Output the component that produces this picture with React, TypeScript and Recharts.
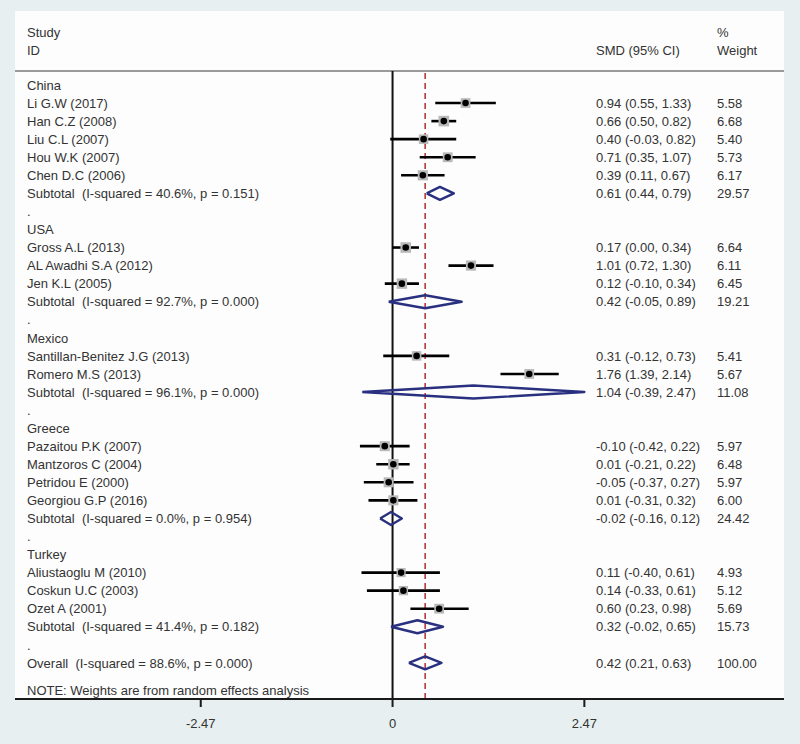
import React from "react";
import { ScatterChart, Scatter, XAxis, YAxis, ReferenceLine } from "recharts";

const groupNames = ["China", "USA", "Mexico", "Greece", "Turkey"];

const studyNames = [
  "Li G.W (2017)", "Han C.Z (2008)", "Liu C.L (2007)", "Hou W.K (2007)", "Chen D.C (2006)",
  "Gross A.L (2013)", "AL Awadhi S.A (2012)", "Jen K.L (2005)",
  "Santillan-Benitez J.G (2013)", "Romero M.S (2013)",
  "Pazaitou P.K (2007)", "Mantzoros C (2004)", "Petridou E (2000)", "Georgiou G.P (2016)",
  "Aliustaoglu M (2010)", "Coskun U.C (2003)", "Ozet A (2001)",
];
const studyGroup = [0, 0, 0, 0, 0, 1, 1, 1, 2, 2, 3, 3, 3, 3, 4, 4, 4];
const studySmd = [0.94, 0.66, 0.4, 0.71, 0.39, 0.17, 1.01, 0.12, 0.31, 1.76, -0.1, 0.01, -0.05, 0.01, 0.11, 0.14, 0.6];
const studyLow = [0.55, 0.5, -0.03, 0.35, 0.11, 0.0, 0.72, -0.1, -0.12, 1.39, -0.42, -0.21, -0.37, -0.31, -0.4, -0.33, 0.23];
const studyHigh = [1.33, 0.82, 0.82, 1.07, 0.67, 0.34, 1.3, 0.34, 0.73, 2.14, 0.22, 0.22, 0.27, 0.32, 0.61, 0.61, 0.98];
const studyWeight = [5.58, 6.68, 5.4, 5.73, 6.17, 6.64, 6.11, 6.45, 5.41, 5.67, 5.97, 6.48, 5.97, 6.0, 4.93, 5.12, 5.69];

const subtotalLabels = [
  "Subtotal  (I-squared = 40.6%, p = 0.151)",
  "Subtotal  (I-squared = 92.7%, p = 0.000)",
  "Subtotal  (I-squared = 96.1%, p = 0.000)",
  "Subtotal  (I-squared = 0.0%, p = 0.954)",
  "Subtotal  (I-squared = 41.4%, p = 0.182)",
];
const subtotalSmd = [0.61, 0.42, 1.04, -0.02, 0.32];
const subtotalLow = [0.44, -0.05, -0.39, -0.16, -0.02];
const subtotalHigh = [0.79, 0.89, 2.47, 0.12, 0.65];
const subtotalWeight = [29.57, 19.21, 11.08, 24.42, 15.73];

const overallLabel = "Overall  (I-squared = 88.6%, p = 0.000)";
const overallSmd = 0.42;
const overallLow = 0.21;
const overallHigh = 0.63;
const overallWeight = 100.0;

const noteText = "NOTE: Weights are from random effects analysis";
const xTicks = [-2.47, 0, 2.47];

const FONT = "'Liberation Sans', Arial, sans-serif";
const TEXT = "#333";
const NAVY = "#28307f";
const X_DOMAIN: [number, number] = [-4.862, 5.041];
const Y_DOMAIN: [number, number] = [-0.775, 34.0];
const DIAMOND_HALF = 0.36;

const f2 = (v: number) => v.toFixed(2);
const ciText = (s: number, l: number, h: number) => `${f2(s)} (${f2(l)}, ${f2(h)})`;

type Row = { y: number; label: string; smdText?: string; wText?: string };

const rows: Row[] = [];
const studyPoints: { x: number; y: number; w: number; lo: number; hi: number }[] = [];
const diamonds: { y: number; smd: number; lo: number; hi: number }[] = [];
let r = 0;
groupNames.forEach((g, gi) => {
  rows.push({ y: r, label: g });
  r++;
  studyNames.forEach((n, si) => {
    if (studyGroup[si] !== gi) return;
    rows.push({ y: r, label: n, smdText: ciText(studySmd[si], studyLow[si], studyHigh[si]), wText: f2(studyWeight[si]) });
    studyPoints.push({ x: studySmd[si], y: r, w: studyWeight[si], lo: studyLow[si], hi: studyHigh[si] });
    r++;
  });
  rows.push({ y: r, label: subtotalLabels[gi], smdText: ciText(subtotalSmd[gi], subtotalLow[gi], subtotalHigh[gi]), wText: f2(subtotalWeight[gi]) });
  diamonds.push({ y: r, smd: subtotalSmd[gi], lo: subtotalLow[gi], hi: subtotalHigh[gi] });
  r++;
  rows.push({ y: r, label: "." });
  r++;
});
rows.push({ y: r, label: overallLabel, smdText: ciText(overallSmd, overallLow, overallHigh), wText: f2(overallWeight) });
diamonds.push({ y: r, smd: overallSmd, lo: overallLow, hi: overallHigh });
r++;
rows.push({ y: r + 0.5, label: noteText });

const labelData = rows.map((row) => ({ x: 0, y: row.y, row }));

const LabelShape = (props: any) => {
  const { cy, payload } = props;
  const row: Row = payload.row;
  const common = { fontFamily: FONT, fontSize: 13, fill: TEXT, dy: "0.36em", style: { whiteSpace: "pre" as const } };
  return (
    <g>
      <text x={27} y={cy} {...common}>{row.label}</text>
      {row.smdText && <text x={596} y={cy} {...common}>{row.smdText}</text>}
      {row.wText && <text x={717} y={cy} {...common}>{row.wText}</text>}
    </g>
  );
};

const BoxShape = (props: any) => {
  const { cx, cy, payload } = props;
  const side = 4.1 * Math.sqrt(payload.w);
  return (
    <g>
      <rect x={cx - side / 2} y={cy - side / 2} width={side} height={side} fill="#b8b8b8" />
      <circle cx={cx} cy={cy} r={3.3} fill="#000" />
    </g>
  );
};

const Empty = () => <g />;

export default function App() {
  return (
    <div style={{ position: "absolute", left: 0, top: 0, width: 800, height: 744, background: "#e7eff0", overflow: "hidden" }}>
      <div style={{ position: "absolute", left: 15, top: 11, width: 769, height: 688, background: "#fdfdfd" }} />
      <svg width={800} height={744} style={{ position: "absolute", left: 0, top: 0 }}>
        <line x1={15} x2={784} y1={71} y2={71} stroke="#9a9a9a" strokeWidth={2} />
        <g fontFamily={FONT} fontSize={13} fill={TEXT}>
          <text x={27} y={32} dy="0.36em">Study</text>
          <text x={27} y={50} dy="0.36em">ID</text>
          <text x={596} y={50} dy="0.36em">SMD (95% CI)</text>
          <text x={717} y={32} dy="0.36em">%</text>
          <text x={717} y={50} dy="0.36em">Weight</text>
        </g>
      </svg>
      <div style={{ position: "absolute", left: 0, top: 0 }}>
        <ScatterChart width={800} height={744} margin={{ top: 71, right: 16, bottom: 0, left: 15 }}>
          <XAxis
            type="number"
            dataKey="x"
            domain={X_DOMAIN}
            ticks={xTicks}
            tickFormatter={(v: number) => (v === 0 ? "0" : v.toFixed(2))}
            allowDataOverflow
            height={45}
            axisLine={{ stroke: "#1a1a1a", strokeWidth: 2 }}
            tickLine={{ stroke: "#1a1a1a", strokeWidth: 2 }}
            tickSize={8}
            tickMargin={12}
            tick={{ fill: TEXT, fontSize: 13, fontFamily: FONT }}
          />
          <YAxis type="number" dataKey="y" domain={Y_DOMAIN} reversed hide allowDataOverflow />
          <ReferenceLine x={0} stroke="#111" strokeWidth={2} ifOverflow="visible" />
          <ReferenceLine x={overallSmd} stroke="#b83a3a" strokeWidth={1.6} strokeDasharray="6 4" ifOverflow="visible" />
          <Scatter data={studyPoints} shape={BoxShape} isAnimationActive={false} />
          {studyPoints.map((p, i) => (
            <ReferenceLine
              key={`ci${i}`}
              segment={[{ x: p.lo, y: p.y }, { x: p.hi, y: p.y }]}
              stroke="#000"
              strokeWidth={2.6}
              ifOverflow="visible"
            />
          ))}
          {diamonds.map((d, i) => (
            <Scatter
              key={`dm${i}`}
              data={[
                { x: d.lo, y: d.y },
                { x: d.smd, y: d.y - DIAMOND_HALF },
                { x: d.hi, y: d.y },
                { x: d.smd, y: d.y + DIAMOND_HALF },
                { x: d.lo, y: d.y },
              ]}
              line={{ stroke: NAVY, strokeWidth: 2.4, strokeLinejoin: "round" }}
              lineType="joint"
              shape={Empty}
              isAnimationActive={false}
            />
          ))}
          <Scatter data={labelData} shape={LabelShape} isAnimationActive={false} />
        </ScatterChart>
      </div>
    </div>
  );
}
